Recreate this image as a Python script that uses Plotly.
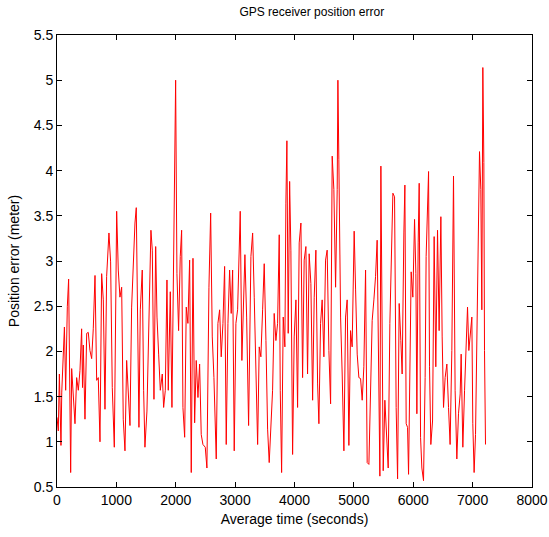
import plotly.graph_objects as go

time_s = [0, 22, 40, 67, 80, 107, 125, 146, 174, 196, 219, 230, 247, 275, 303, 331, 359, 387, 415, 430, 443, 471,
          500, 527, 555, 584, 611, 640, 668, 695, 724, 752, 780, 808, 836, 875, 903, 931, 965, 1005, 1032, 1060,
          1089, 1116, 1145, 1173, 1200, 1229, 1257, 1285, 1313, 1335, 1358, 1380, 1403, 1436, 1459, 1481,
          1515, 1560, 1582, 1605, 1633, 1662, 1684, 1712, 1740, 1773, 1796, 1824, 1852, 1874, 1908, 1936, 1965,
          1987, 1998, 2020, 2048, 2076, 2099, 2121, 2150, 2177, 2205, 2234, 2261, 2290, 2318, 2345, 2374, 2402,
          2429, 2458, 2497, 2525, 2559, 2588, 2615, 2643, 2682, 2710, 2739, 2766, 2795, 2823, 2850, 2879, 2907,
          2934, 2958, 2985, 3013, 3042, 3069, 3086, 3114, 3143, 3165, 3194, 3227, 3266, 3295, 3322, 3350, 3379,
          3406, 3434, 3463, 3490, 3519, 3547, 3574, 3603, 3631, 3658, 3687, 3715, 3743, 3760, 3783, 3810, 3838,
          3855, 3872, 3894, 3918, 3939, 3968, 3995, 4024, 4052, 4079, 4108, 4136, 4163, 4192, 4220, 4247, 4276,
          4305, 4332, 4360, 4389, 4411, 4439, 4466, 4495, 4523, 4550, 4579, 4608, 4635, 4663, 4692, 4719, 4731,
          4747, 4776, 4803, 4832, 4860, 4887, 4916, 4944, 4971, 5005, 5029, 5056, 5084, 5113, 5140, 5168, 5197,
          5224, 5253, 5281, 5308, 5337, 5365, 5392, 5421, 5438, 5455, 5477, 5494, 5522, 5550, 5578, 5606, 5635,
          5657, 5685, 5712, 5736, 5763, 5791, 5813, 5842, 5859, 5881, 5904, 5921, 5948, 5965, 5993, 6022, 6044,
          6061, 6083, 6100, 6123, 6145, 6173, 6200, 6217, 6241, 6258, 6274, 6296, 6325, 6352, 6380, 6409, 6436,
          6465, 6487, 6510, 6537, 6566, 6594, 6621, 6650, 6678, 6705, 6734, 6762, 6790, 6807, 6835, 6864, 6891,
          6914, 6936, 6958, 6987, 7003, 7025, 7049, 7071, 7099, 7116, 7138, 7155, 7172, 7189, 7200, 7217]

position_error = [1.27, 1.12, 1.75, 0.96, 1.55, 1.92, 2.27, 1.57, 2.5, 2.8, 1.16, 0.66, 1.81, 1.53, 1.2, 1.71,
                  1.57, 1.79, 2.25, 1.6, 2.07, 1.25,
                  2.2, 2.21, 2.01, 1.92, 2.25, 2.84, 1.68, 1.71, 1.0, 2.86, 2.57, 1.36, 2.83, 3.31, 2.99, 1.6,
                  0.94, 3.55, 2.9, 2.6,
                  2.71, 1.25, 0.9, 1.9, 1.57, 1.18, 2.49, 2.97, 3.42, 3.59, 2.6, 1.16, 2.46, 2.9, 1.57, 0.94,
                  1.34, 2.97, 3.34, 3.12, 1.47, 3.16, 2.38, 1.97, 1.57, 1.75, 1.38, 1.57, 2.79, 1.57, 2.66, 1.38,
                  2.86,
                  4.27, 5.0, 2.86, 2.23, 3.05, 3.34, 1.38, 1.05, 2.49, 2.31, 3.01, 0.66, 3.03, 1.21, 1.9, 1.49,
                  1.86,
                  1.08, 0.97, 0.94, 0.71, 2.71, 3.53, 2.16, 1.71, 0.81, 2.31, 2.46, 1.94, 2.31, 2.94, 0.97, 2.31,
                  2.9,
                  2.42, 2.9, 0.9, 2.31, 2.46, 3.2, 3.55, 1.9, 2.68, 3.07, 2.38, 1.18, 3.05, 3.31, 2.6, 1.86, 0.97,
                  2.05, 1.94, 2.46, 2.97, 2.12, 1.14, 0.77, 1.25, 1.57, 2.42, 2.12, 2.31, 3.29, 1.57, 0.66, 2.38,
                  2.05,
                  3.64, 4.33, 2.2, 3.88, 3.12, 0.86, 2.16, 2.57, 1.38, 3.2, 3.42, 1.71, 3.01, 3.16, 1.75, 3.08,
                  2.75,
                  1.46, 2.6, 3.12, 1.64, 1.2, 2.31, 2.57, 1.94, 3.01, 3.12, 2.01, 1.42, 4.16, 3.79, 2.71, 3.79,
                  5.0,
                  4.12, 2.38, 1.75, 0.9, 2.38, 2.57, 0.96, 2.23, 2.05, 3.33, 2.68, 1.97, 1.71, 1.7, 1.46, 1.83,
                  2.9,
                  0.77, 0.75, 1.57, 2.34, 2.57, 2.83, 3.23, 1.05, 0.62, 4.05, 1.57, 0.68, 1.46, 1.01, 0.71, 2.31,
                  3.27,
                  3.75, 3.71, 1.38, 0.59, 2.53, 2.12, 1.75, 3.31, 3.84, 1.2, 1.16, 0.64, 2.23, 2.88, 2.6, 3.46,
                  2.86,
                  1.31, 3.2, 3.86, 1.05, 0.71, 0.57, 1.71, 3.05, 3.68, 3.99, 1.83, 0.97, 1.23, 3.27, 1.83, 3.34,
                  2.23,
                  3.49, 2.16, 1.38, 1.71, 1.86, 1.38, 0.97, 2.01, 3.94, 1.57, 0.81, 1.31, 1.53, 1.97, 0.94, 1.57,
                  2.23,
                  2.49, 2.01, 2.16, 2.38, 1.2, 0.66, 1.08, 2.12, 3.42, 4.21, 3.79, 2.46, 5.14, 4.09, 2.01, 0.97]

x_ticks = [0, 1000, 2000, 3000, 4000, 5000, 6000, 7000, 8000]
x_tick_labels = ["0", "1000", "2000", "3000", "4000", "5000", "6000", "7000", "8000"]
y_ticks = [0.5, 1, 1.5, 2, 2.5, 3, 3.5, 4, 4.5, 5, 5.5]
y_tick_labels = ["0.5", "1", "1.5", "2", "2.5", "3", "3.5", "4", "4.5", "5", "5.5"]

fig = go.Figure()
fig.add_trace(go.Scatter(x=time_s, y=position_error, mode="lines",
                         line=dict(color="#ff0000", width=1), showlegend=False))

font_family = "Liberation Sans, Arial, sans-serif"
axis_common = dict(showline=True, linecolor="black", linewidth=1, mirror="ticks",
                   ticks="inside", ticklen=5, tickcolor="black", showgrid=False, zeroline=False,
                   automargin=False,
                   tickfont=dict(family=font_family, size=14, color="black"))

fig.update_layout(
    width=549, height=537,
    margin=dict(l=57, r=17, t=35, b=50),
    paper_bgcolor="white", plot_bgcolor="white",
    title=dict(text="GPS receiver position error", x=(57 + 532) / 2 / 549, xanchor="center", xref="paper",
               y=1 - 12 / 537, yanchor="middle", automargin=False,
               font=dict(family=font_family, size=12, color="black")),
    xaxis=dict(range=[0, 8000], tickvals=x_ticks, ticktext=x_tick_labels,
               title=dict(text="Average time (seconds)", standoff=7,
                          font=dict(family=font_family, size=14, color="black")),
               **axis_common),
    yaxis=dict(range=[0.5, 5.5], tickvals=y_ticks, ticktext=y_tick_labels,
               title=dict(text="Position error (meter)", standoff=10,
                          font=dict(family=font_family, size=14, color="black")),
               **axis_common),
)

fig.write_html("out.html", config={"displayModeBar": False},
               post_script="document.body.style.margin='0';")
